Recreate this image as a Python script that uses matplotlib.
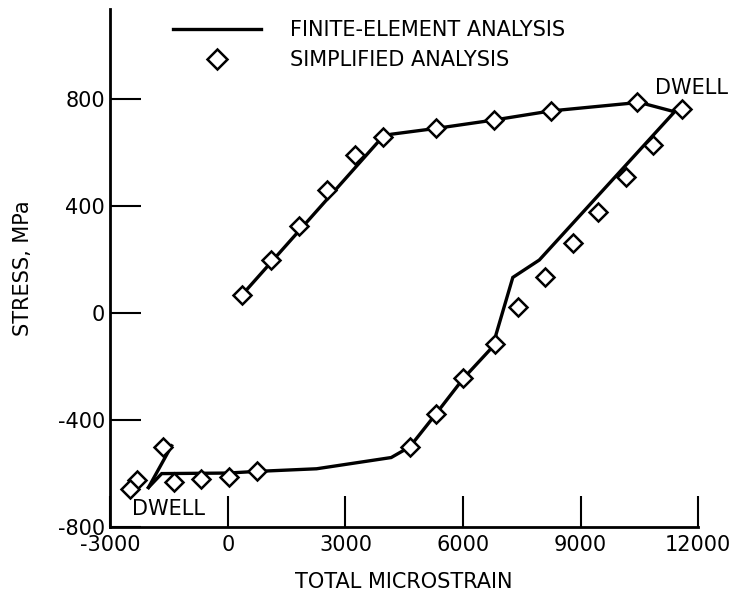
import matplotlib
matplotlib.use('Agg')
import matplotlib.pyplot as plt
from matplotlib.lines import Line2D

plt.rcParams['font.family'] = ['DejaVu Sans']

# finite-element curve, main loop
fe_strain = [357, 3952, 4167, 5321, 6786, 8238, 10500, 11400,
             7947, 7271, 6845, 6821, 6012, 5298, 4643, 4167,
             2262, 714, 0, -1690, -2028]
fe_stress = [67, 659, 668, 690, 721, 755, 787, 752,
             198, 133, -79, -116, -244, -379, -500, -540,
             -582, -592, -598, -600, -652]
# short unloading segment after the compressive dwell
fe2_strain = [-2028, -1437]
fe2_stress = [-652, -496]

# simplified analysis points
sa_strain = [357, 1107, 1821, 2536, 3238, 3952, 5321, 6786, 8238, 10437, 11600,
             10849, 10170, 9451, 8817, 8100, 7415, 6821, 6012, 5298, 4643,
             744, 25, -693, -1369, -1665, -2324, -2510]
sa_stress = [67, 198, 326, 460, 591, 659, 690, 721, 755, 790, 761,
             628, 510, 379, 260, 133, 23, -116, -244, -379, -500,
             -590, -611, -621, -631, -502, -625, -659]

x_ticks = [-3000, 0, 3000, 6000, 9000, 12000]
y_ticks = [-800, -400, 0, 400, 800]

fig = plt.figure(figsize=(7.31, 5.99), dpi=100)
ax = fig.add_axes([0.151, 0.120, 0.804, 0.865])

ax.plot(fe_strain, fe_stress, color='black', lw=2.4, solid_joinstyle='miter', zorder=2)
ax.plot(fe2_strain, fe2_stress, color='black', lw=2.4, zorder=2)
ax.plot(sa_strain, sa_stress, linestyle='none', marker='D', ms=9,
        mfc='white', mec='black', mew=1.8, zorder=3)

ax.set_xlim(-3000, 12000)
ax.set_ylim(-800, 1136)
ax.set_xticks(x_ticks)
ax.set_yticks(y_ticks)
ax.set_xticklabels([str(v) for v in x_ticks])
ax.set_yticklabels([str(v) for v in y_ticks])
ax.tick_params(direction='in', length=22, width=1.5, labelsize=15)
ax.tick_params(axis='x', pad=6)
ax.tick_params(axis='y', pad=4)

for s in ['top', 'right']:
    ax.spines[s].set_visible(False)
for s in ['left', 'bottom']:
    ax.spines[s].set_linewidth(2)

ax.set_xlabel('TOTAL MICROSTRAIN', fontsize=15, labelpad=12)
ax.set_ylabel('STRESS, MPa', fontsize=15, labelpad=18)

ax.text(11835, 841, 'DWELL', fontsize=15, ha='center', va='center', clip_on=False)
ax.text(-1504, -732, 'DWELL', fontsize=15, ha='center', va='center')

handles = [Line2D([], [], color='black', lw=2.4),
           Line2D([], [], linestyle='none', marker='D', ms=10, mfc='white',
                  mec='black', mew=1.8)]
ax.legend(handles, ['FINITE-ELEMENT ANALYSIS', 'SIMPLIFIED ANALYSIS'],
          loc='upper left', bbox_to_anchor=(0.075, 1.015), frameon=False,
          fontsize=15, handlelength=4.2, handletextpad=1.4, labelspacing=0.5)

fig.savefig('out.png', dpi=100)
